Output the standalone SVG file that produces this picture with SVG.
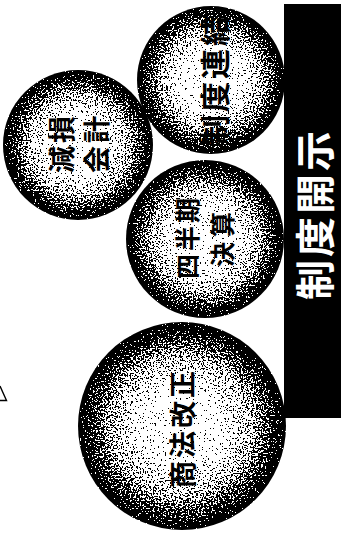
<svg xmlns="http://www.w3.org/2000/svg" width="341" height="538" viewBox="0 0 341 538">
  <defs>
    <!-- shaded ball: light core fading to a dark rim -->
    <radialGradient id="ball" cx="50%" cy="50%" r="50%">
      <stop offset="0" stop-color="#f2f2f2"/>
      <stop offset="0.4" stop-color="#e0e0e0"/>
      <stop offset="0.68" stop-color="#9a9a9a"/>
      <stop offset="0.86" stop-color="#4a4a4a"/>
      <stop offset="0.96" stop-color="#161616"/>
      <stop offset="1" stop-color="#060606"/>
    </radialGradient>
    <!-- halftone grain: noise added to the shade, then thresholded to black/white -->
    <filter id="grain" x="-2%" y="-2%" width="104%" height="104%" color-interpolation-filters="sRGB">
      <feTurbulence type="fractalNoise" baseFrequency="0.6" numOctaves="2" seed="5" result="noise"/>
      <feColorMatrix in="noise" type="matrix" values="1 0 0 0 0  1 0 0 0 0  1 0 0 0 0  0 0 0 0 1" result="gn"/>
      <feComposite in="SourceGraphic" in2="gn" operator="arithmetic" k1="0" k2="1" k3="2.0" k4="-1.0" result="mix"/>
      <feComponentTransfer in="mix" result="dots">
        <feFuncR type="discrete" tableValues="0 1"/>
        <feFuncG type="discrete" tableValues="0 1"/>
        <feFuncB type="discrete" tableValues="0 1"/>
      </feComponentTransfer>
      <feComposite in="dots" in2="SourceAlpha" operator="in"/>
    </filter>
  </defs>
  <style>
    .ball { fill: url(#ball); filter: url(#grain); }
    .lbl { font-family: "Noto Sans CJK JP", "Noto Sans CJK SC", sans-serif; font-weight: 700; fill: #000; text-anchor: middle; dominant-baseline: central; }
    .title { font-family: "Noto Sans CJK JP", "Noto Sans CJK SC", sans-serif; font-weight: 700; fill: #fff; text-anchor: middle; dominant-baseline: central; font-size: 40px; letter-spacing: 3px; }
    .mark { fill: none; stroke: #000; stroke-width: 1.4; }
  </style>

  <rect width="341" height="538" fill="#fff"/>

  <!-- partial triangle at the left margin -->
  <path class="mark" d="M0,386 L6.5,400.5 L0,400.5"/>

  <!-- header bar -->
  <g id="header">
    <rect x="284" y="4" width="57" height="414" fill="#000"/>
    <text class="title" transform="translate(313,214) rotate(-90)">制度開示</text>
  </g>

  <g id="consolidation">
    <circle class="ball" cx="211" cy="80" r="74"/>
    <text class="lbl" transform="translate(213,79) rotate(-90)" font-size="30" letter-spacing="3">制度連結</text>
  </g>

  <g id="impairment">
    <circle class="ball" cx="78" cy="145" r="75"/>
    <text class="lbl" transform="translate(60,143) rotate(-90)" font-size="27" letter-spacing="3">減損</text>
    <text class="lbl" transform="translate(95,143) rotate(-90)" font-size="27" letter-spacing="3">会計</text>
  </g>

  <g id="quarterly">
    <circle class="ball" cx="205" cy="239" r="79"/>
    <text class="lbl" transform="translate(186,237) rotate(-90)" font-size="25" letter-spacing="3">四半期</text>
    <text class="lbl" transform="translate(221,237) rotate(-90)" font-size="25" letter-spacing="5">決算</text>
  </g>

  <g id="commercial-code">
    <circle class="ball" cx="182" cy="426" r="104"/>
    <text class="lbl" transform="translate(181,428) rotate(-90)" font-size="27" letter-spacing="3">商法改正</text>
  </g>

  <g id="connectors"/>
</svg>
